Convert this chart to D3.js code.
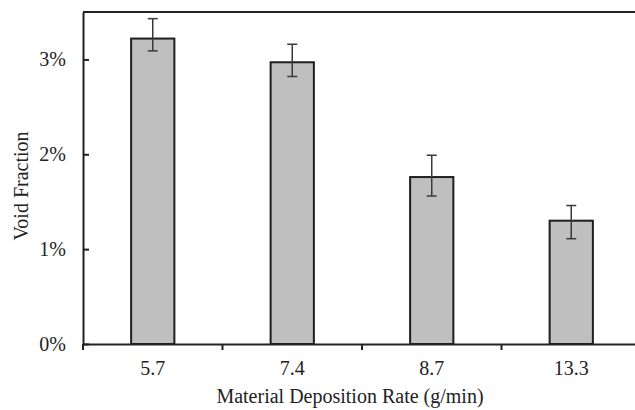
<!DOCTYPE html>
<html>
<head>
<meta charset="utf-8">
<script src="https://cdn.jsdelivr.net/npm/d3@7"></script>
<style>
  html, body { margin: 0; padding: 0; background: #fff; }
  svg { display: block; }
  svg text { font-family: 'Liberation Serif', 'Times New Roman', Times, serif !important; fill: #222; }
</style>
</head>
<body>
<svg id="chart" width="635" height="410"></svg>
<script>
// Deposition rates (g/min) and measured void fractions
const categories = ["5.7", "7.4", "8.7", "13.3"];
const voidFraction = [0.0322, 0.0297, 0.0176, 0.0130];
const errorUp = [0.0021, 0.0019, 0.0023, 0.0016];
const errorDown = [0.0013, 0.0015, 0.0020, 0.0019];
const yTicks = [0, 0.01, 0.02, 0.03];
const yMax = 0.035;

const serif = "'Liberation Serif', 'Times New Roman', Times, serif";
const svg = d3.select("#chart");
const m = { left: 83, top: 12, right: 641, bottom: 344 };

const x = d3.scaleBand().domain(categories).range([m.left, m.right]).padding(0);
const y = d3.scaleLinear().domain([0, yMax]).range([m.bottom, m.top]);
const barW = x.bandwidth() * 0.31;

const rows = categories.map((c, i) => ({
  c, v: voidFraction[i], hi: voidFraction[i] + errorUp[i], lo: voidFraction[i] - errorDown[i]
}));

// Bars
svg.append("g").selectAll("rect").data(rows).join("rect")
  .attr("x", d => x(d.c) + (x.bandwidth() - barW) / 2)
  .attr("y", d => y(d.v))
  .attr("width", barW)
  .attr("height", d => y(0) - y(d.v))
  .attr("fill", "#bfbfbf")
  .attr("stroke", "#1e1e1e")
  .attr("stroke-width", 2);

// Error bars
const eb = svg.append("g").attr("stroke", "#3a3a3a").attr("stroke-width", 1.5);
const cx = d => x(d.c) + x.bandwidth() / 2;
eb.selectAll("line.stem").data(rows).join("line").attr("class", "stem")
  .attr("x1", cx).attr("x2", cx).attr("y1", d => y(d.hi)).attr("y2", d => y(d.lo));
eb.selectAll("line.capt").data(rows).join("line").attr("class", "capt")
  .attr("x1", d => cx(d) - 5).attr("x2", d => cx(d) + 5)
  .attr("y1", d => y(d.hi)).attr("y2", d => y(d.hi));
eb.selectAll("line.capb").data(rows).join("line").attr("class", "capb")
  .attr("x1", d => cx(d) - 5).attr("x2", d => cx(d) + 5)
  .attr("y1", d => y(d.lo)).attr("y2", d => y(d.lo));

// Top border of the plot area
svg.append("line")
  .attr("x1", m.left).attr("x2", m.right).attr("y1", m.top).attr("y2", m.top)
  .attr("stroke", "#222").attr("stroke-width", 2);

// Y axis with inward ticks
const yAxis = svg.append("g").attr("transform", `translate(${m.left},0)`)
  .call(d3.axisLeft(y).tickValues(yTicks).tickFormat(d3.format(".0%"))
    .tickSizeInner(-6).tickSizeOuter(0).tickPadding(17));
yAxis.attr("font-family", serif).attr("font-size", 20);
yAxis.select(".domain").attr("stroke", "#222").attr("stroke-width", 2);
yAxis.selectAll(".tick line").attr("stroke", "#222").attr("stroke-width", 2);
yAxis.selectAll(".tick text").attr("fill", "#222");

// X axis: labels centred in each category, ticks on category boundaries
const xAxis = svg.append("g").attr("transform", `translate(0,${m.bottom})`)
  .call(d3.axisBottom(x).tickSize(0).tickPadding(17));
xAxis.attr("font-family", serif).attr("font-size", 20);
xAxis.select(".domain").attr("stroke", "#222").attr("stroke-width", 2);
xAxis.selectAll(".tick text").attr("fill", "#222");
const bounds = d3.range(categories.length + 1).map(i => m.left + i * x.step());
xAxis.selectAll("line.sep").data(bounds).join("line").attr("class", "sep")
  .attr("x1", d => d).attr("x2", d => d).attr("y1", 0).attr("y2", 6)
  .attr("stroke", "#222").attr("stroke-width", 2);

// Axis titles
svg.append("text")
  .attr("x", (m.left + m.right) / 2 - 12).attr("y", 403)
  .attr("text-anchor", "middle").attr("font-size", 20).attr("font-family", serif)
  .text("Material Deposition Rate (g/min)");
svg.append("text")
  .attr("transform", `translate(28,${(m.top + m.bottom) / 2 + 8}) rotate(-90)`)
  .attr("text-anchor", "middle").attr("font-size", 20).attr("font-family", serif)
  .text("Void Fraction");
</script>
</body>
</html>
